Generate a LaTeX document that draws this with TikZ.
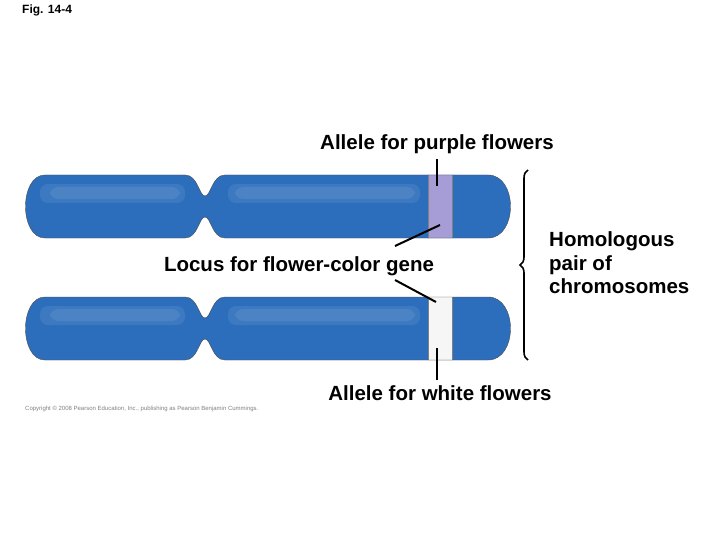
\documentclass[tikz,border=0pt]{standalone}
\usepackage{fontspec}
\setmainfont{Liberation Sans}
\usetikzlibrary{decorations.pathreplacing}
\definecolor{chrom}{HTML}{2C6EBB}
\definecolor{purp}{HTML}{A79DD6}
\tikzset{lbl/.style={font=\fontsize{20.5}{24}\selectfont\bfseries,inner sep=0pt},
 ptr/.style={line width=2pt,black}}
\newcommand{\chrpath}[1]{%
 (45,#1) -- (185,#1) .. controls (198,#1) and (199,#1+21) .. (205,#1+21)
 .. controls (211,#1+21) and (212,#1) .. (225,#1) -- (488,#1)
 .. controls (518,#1) and (518,#1+63) .. (488,#1+63) -- (225,#1+63)
 .. controls (212,#1+63) and (211,#1+42) .. (205,#1+42)
 .. controls (199,#1+42) and (198,#1+63) .. (185,#1+63) -- (45,#1+63)
 .. controls (19,#1+63) and (19,#1) .. (45,#1) -- cycle}
\newcommand{\chromo}[2]{%
 \fill[chrom] \chrpath{#1};
 \begin{scope}
 \clip \chrpath{#1};
 \fill[white,opacity=0.08,rounded corners=8pt] (40,#1+9) rectangle (185,#1+28);
 \fill[white,opacity=0.08,rounded corners=8pt] (50,#1+12) rectangle (180,#1+24);
 \fill[white,opacity=0.08,rounded corners=8pt] (228,#1+9) rectangle (420,#1+28);
 \fill[white,opacity=0.08,rounded corners=8pt] (235,#1+12) rectangle (415,#1+24);
 \fill[#2,draw=gray] (428,#1-2) rectangle (452,#1+65);
 \end{scope}
 \draw[black!70,line width=0.4pt] \chrpath{#1};}
\begin{document}
\begin{tikzpicture}[x=1pt,y=-1pt]
\useasboundingbox[fill=white] (0,0) rectangle (720,540);
\node[anchor=west,font=\fontsize{12}{13}\selectfont\bfseries,inner sep=0pt] (fig) at (22,10) {Fig. 14-4};
\chromo{175}{purp}
\chromo{297}{white!93!gray}
\coordinate (b1) at (440,225);
\coordinate (b2) at (436,302);
\node[lbl] (ap) at (437,144) {Allele for purple flowers};
\node[lbl] (aw) at (440,393) {Allele for white flowers};
\node[lbl] (loc) at (299,266) {Locus for flower-color gene};
\node[lbl,anchor=west,align=left,font=\fontsize{20.5}{23.5}\selectfont\bfseries] (hom) at (549,263) {Homologous\\pair of\\chromosomes};
\draw[ptr] (437,159) -- (437,186);
\draw[ptr] (437,348) -- (437,380);
\draw[ptr] (395,246) -- (b1);
\draw[ptr] (395,280) -- (b2);
\draw[line width=1.6pt,decorate,decoration={brace,amplitude=8pt,aspect=0.5}] (528,360) -- (528,170);
\node[anchor=west,font=\fontsize{6}{7}\selectfont,text=gray,inner sep=0pt] (cp) at (25,409) {Copyright \textcopyright{} 2008 Pearson Education, Inc., publishing as Pearson Benjamin Cummings.};
\end{tikzpicture}
\end{document}
